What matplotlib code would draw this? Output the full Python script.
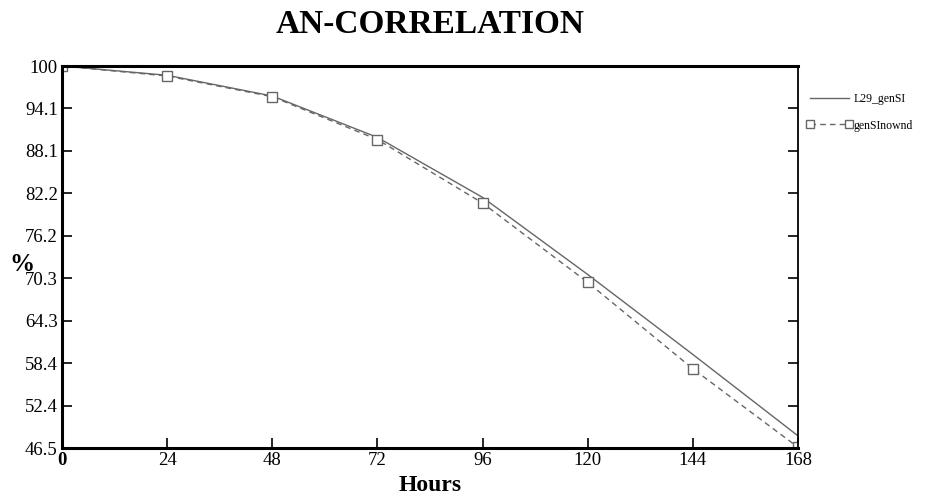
import matplotlib
matplotlib.use('Agg')
import matplotlib.pyplot as plt

# данные
hours = [0, 24, 48, 72, 96, 120, 144, 168]
l29_gensi = [100, 98.7, 95.8, 90.0, 81.6, 70.8, 59.6, 48.2]
gensi_nownd = [100, 98.6, 95.7, 89.7, 80.8, 69.7, 57.6, 46.6]
yticks = [46.5, 52.4, 58.4, 64.3, 70.3, 76.2, 82.2, 88.1, 94.1, 100]
xticks = [0, 24, 48, 72, 96, 120, 144, 168]

plt.rcParams['font.family'] = ['Liberation Serif', 'DejaVu Serif']

fig = plt.figure(figsize=(9.25, 4.94), dpi=100)
ax = fig.add_axes([62 / 925, 46 / 494, 736 / 925, 382 / 494])

ax.plot(hours, l29_gensi, color='#666666', lw=1.0, label='L29_genSI')
ax.plot(hours, gensi_nownd, color='#666666', lw=1.0, ls=(0, (4, 3)),
        marker='s', ms=7, mfc='white', mec='#666666', mew=1.0,
        label='genSInownd')

ax.set_xlim(0, 168)
ax.set_ylim(46.5, 100)
ax.set_xticks(xticks)
ax.set_xticklabels([str(x) for x in xticks])
ax.set_yticks(yticks)
ax.set_yticklabels([str(y) if y != 100 else '100' for y in yticks])
ax.get_xticklabels()[0].set_fontweight('bold')

ax.tick_params(direction='in', length=7, width=1.2, labelsize=13.5,
               top=False, right=True, pad=3)
for s in ax.spines.values():
    s.set_linewidth(2.2)
ax.spines['right'].set_linewidth(1.3)

ax.set_title('AN-CORRELATION', fontsize=24, fontweight='bold', pad=24)
ax.set_xlabel('Hours', fontsize=17, fontweight='bold', labelpad=4)
ax.set_ylabel('%', fontsize=18, fontweight='bold', rotation=0, labelpad=8)
ax.yaxis.set_label_coords(-0.055, 0.45)

leg = ax.legend(loc='upper left', bbox_to_anchor=(1.0, 0.95), frameon=False,
                fontsize=8.5, numpoints=2, handlelength=3.9, handletextpad=0.1,
                labelspacing=1.2, markerscale=0.8, borderaxespad=0.3)

plt.savefig('out.png', dpi=100)
